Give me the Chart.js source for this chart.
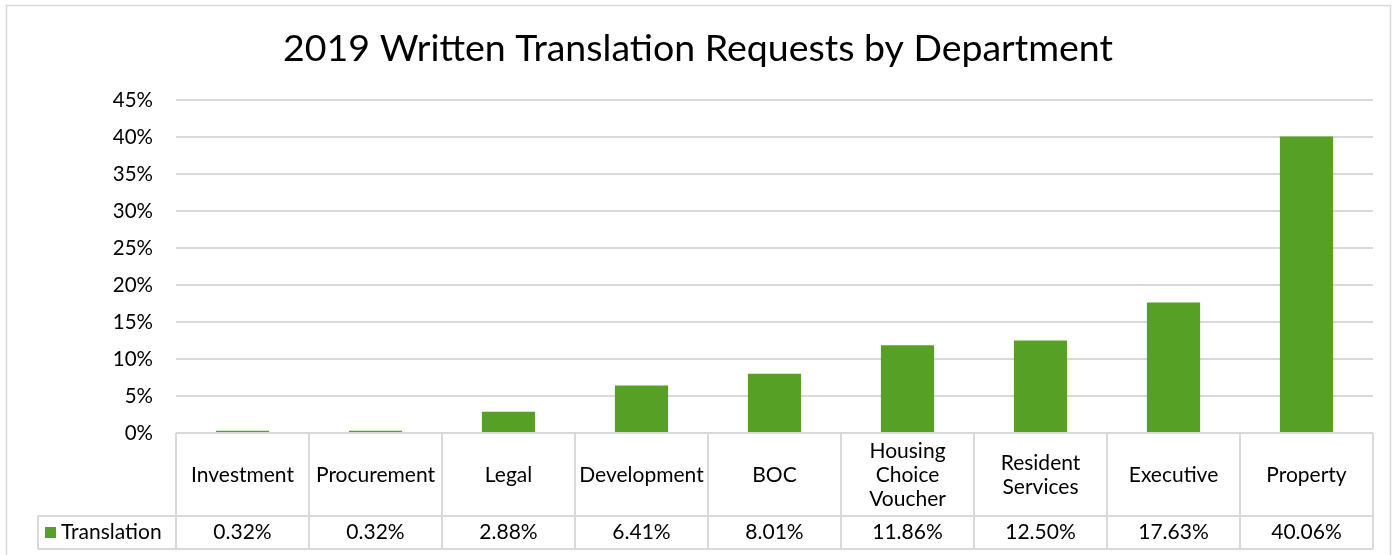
<!DOCTYPE html>
<html>
<head>
<meta charset="utf-8">
<script src="https://cdn.jsdelivr.net/npm/chart.js@4/dist/chart.umd.min.js"></script>
<style>
  html, body { margin: 0; padding: 0; background: #fff; }
  #wrap { width: 1396px; height: 555px; position: relative; }
</style>
</head>
<body>
<div id="wrap"><canvas id="c"></canvas></div>
<script>
const categories = ['Investment', 'Procurement', 'Legal', 'Development', 'BOC',
  ['Housing', 'Choice', 'Voucher'], ['Resident', 'Services'], 'Executive', 'Property'];
const translation = [0.32, 0.32, 2.88, 6.41, 8.01, 11.86, 12.50, 17.63, 40.06];
const seriesName = 'Translation';
const chartTitle = '2019 Written Translation Requests by Department';
const yTicks = [0, 5, 10, 15, 20, 25, 30, 35, 40, 45];

const FONT = 'Lato, "DejaVu Sans", sans-serif';
const GREEN = '#56A125';
const GRID = '#D9D9D9';

const tablePlugin = {
  id: 'dataTable',
  afterDraw(chart) {
    const ctx = chart.ctx;
    const { left, right, bottom } = chart.chartArea;
    const xs = chart.scales.x;
    const n = categories.length;
    const w = (right - left) / n;
    const r1 = bottom + 83;
    const r2 = bottom + 116;
    const legLeft = 38;
    ctx.save();
    // outer frame
    ctx.strokeStyle = '#D9D9D9';
    ctx.lineWidth = 1.5;
    ctx.strokeRect(6.5, 5.5, 1384, 560);
    // table lines
    ctx.strokeStyle = GRID;
    ctx.lineWidth = 2;
    ctx.beginPath();
    ctx.moveTo(left, bottom); ctx.lineTo(right, bottom);
    ctx.moveTo(legLeft, r1); ctx.lineTo(right, r1);
    ctx.moveTo(legLeft, r2); ctx.lineTo(right, r2);
    ctx.moveTo(legLeft, r1); ctx.lineTo(legLeft, r2);
    for (let i = 0; i <= n; i++) {
      const x = i < n ? xs.getPixelForValue(i) - w / 2 : right;
      ctx.moveTo(x, bottom); ctx.lineTo(x, r2);
    }
    ctx.stroke();
    // texts
    ctx.fillStyle = '#000';
    ctx.font = '21px ' + FONT;
    ctx.textAlign = 'center';
    ctx.textBaseline = 'middle';
    const lh = 24;
    categories.forEach((lab, i) => {
      const cx = xs.getPixelForValue(i);
      const lines = Array.isArray(lab) ? lab : [lab];
      const cy = (bottom + r1) / 2 + 1;
      lines.forEach((t, k) => {
        ctx.fillText(t, cx, cy + (k - (lines.length - 1) / 2) * lh);
      });
      ctx.fillText(translation[i].toFixed(2) + '%', cx, (r1 + r2) / 2);
    });
    // legend cell
    ctx.fillStyle = GREEN;
    ctx.fillRect(45, 527, 11, 11);
    ctx.fillStyle = '#000';
    ctx.textAlign = 'left';
    ctx.fillText(seriesName, 61, (r1 + r2) / 2);
    ctx.restore();
  }
};

new Chart(document.getElementById('c'), {
  type: 'bar',
  data: {
    labels: categories,
    datasets: [{
      label: seriesName,
      data: translation,
      backgroundColor: GREEN,
      borderWidth: 0,
      barPercentage: 0.4,
      categoryPercentage: 1.0
    }]
  },
  options: {
    responsive: true,
    maintainAspectRatio: false,
    animation: false,
    layout: { padding: { left: 23, right: 23, top: 0, bottom: 122 } },
    plugins: {
      legend: { display: false },
      tooltip: { enabled: false },
      title: {
        display: true,
        text: chartTitle,
        color: '#000',
        font: { family: FONT, size: 37.5, weight: 'normal', lineHeight: 1.2 },
        padding: { top: 26, bottom: 29 }
      }
    },
    scales: {
      x: {
        display: true,
        ticks: { display: false },
        grid: { display: false, drawTicks: false },
        border: { display: false }
      },
      y: {
        min: 0,
        max: 45,
        afterBuildTicks(scale) { scale.ticks = yTicks.map(v => ({ value: v })); },
        afterFit(scale) { scale.width = 153; },
        ticks: {
          color: '#000',
          padding: 23,
          font: { family: FONT, size: 20.5 },
          callback: v => v + '%'
        },
        grid: { color: GRID, lineWidth: 2, drawTicks: false },
        border: { display: false }
      }
    }
  },
  plugins: [tablePlugin]
});
</script>
</body>
</html>
